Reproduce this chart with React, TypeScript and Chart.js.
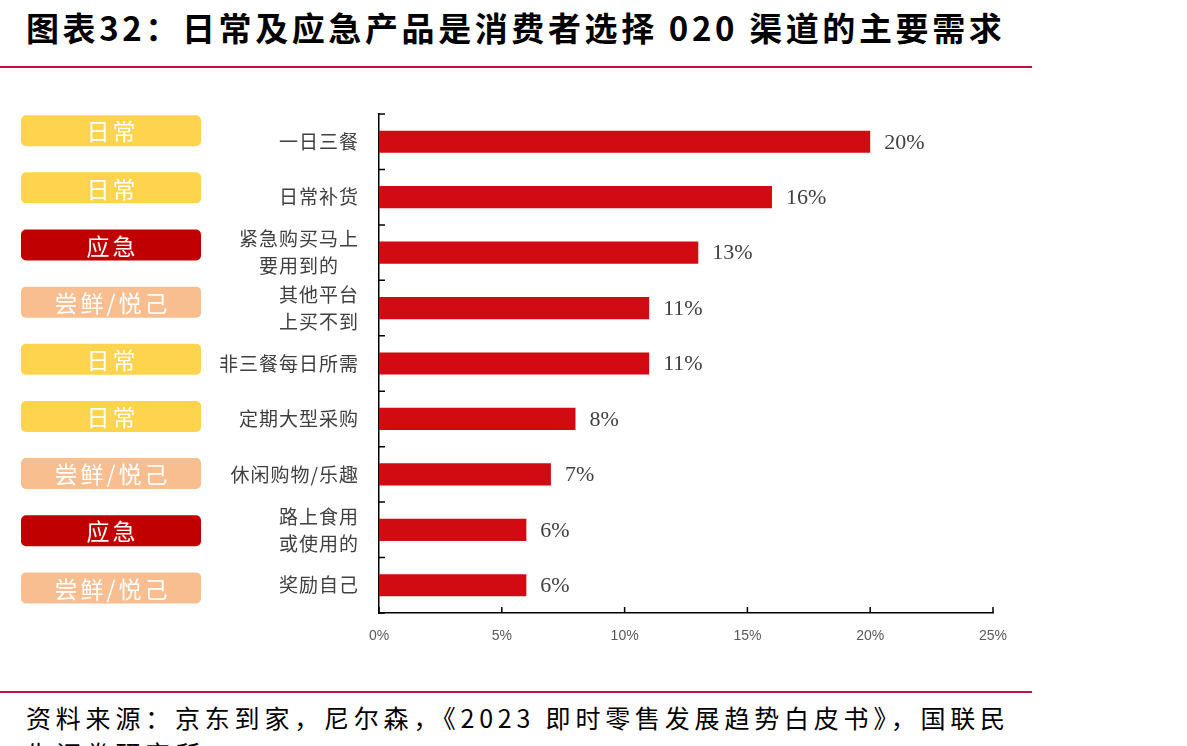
import React, { useEffect, useRef } from "react";
import { Chart, registerables } from "chart.js";

Chart.register(...registerables);

const categories: string[][] = [
  ["一日三餐"],
  ["日常补货"],
  ["紧急购买马上", "要用到的"],
  ["其他平台", "上买不到"],
  ["非三餐每日所需"],
  ["定期大型采购"],
  ["休闲购物/乐趣"],
  ["路上食用", "或使用的"],
  ["奖励自己"],
];
const values: number[] = [20, 16, 13, 11, 11, 8, 7, 6, 6];
const tagLabels: string[] = ["日常", "日常", "应急", "尝鲜/悦己", "日常", "日常", "尝鲜/悦己", "应急", "尝鲜/悦己"];
const xTicks: number[] = [0, 5, 10, 15, 20, 25];

const TITLE = "图表32：日常及应急产品是消费者选择 020 渠道的主要需求";
const SOURCE_1 = "资料来源：京东到家，尼尔森，《2023 即时零售发展趋势白皮书》，国联民";
const SOURCE_2 = "生证券研究所";

const tagColors: Record<string, string> = {
  "日常": "#FED44F",
  "应急": "#C00000",
  "尝鲜/悦己": "#F8BE90",
};

const BAR_COLOR = "#D20A11";
const CJK = '"Noto Sans CJK SC", "Noto Sans", sans-serif';

const overlayPlugin = {
  id: "overlay",
  afterDraw(chart: any) {
    const ctx = chart.ctx as CanvasRenderingContext2D;
    const xs = chart.scales.x;
    const ys = chart.scales.y;
    const { left, top, bottom } = chart.chartArea;
    ctx.save();
    // inner tick marks
    ctx.strokeStyle = "#000";
    ctx.lineWidth = 1.5;
    ctx.beginPath();
    xTicks.forEach((v) => {
      const x = xs.getPixelForValue(v);
      ctx.moveTo(x, bottom);
      ctx.lineTo(x, bottom - 6);
    });
    const n = categories.length;
    for (let k = 0; k <= n; k++) {
      const y = top + (k * (bottom - top)) / n;
      ctx.moveTo(left, y);
      ctx.lineTo(left + 6, y);
    }
    ctx.stroke();

    // category labels
    ctx.font = `19px ${CJK}`;
    (ctx as any).letterSpacing = "1px";
    ctx.fillStyle = "#404040";
    ctx.textAlign = "center";
    ctx.textBaseline = "middle";
    const labelRight = left - 20;
    const lineH = 27;
    categories.forEach((lines, i) => {
      const yc = ys.getPixelForValue(i);
      const widest = Math.max(...lines.map((l) => ctx.measureText(l).width));
      const cx = labelRight - widest / 2;
      lines.forEach((l, j) => {
        const y = yc + (j - (lines.length - 1) / 2) * lineH;
        ctx.fillText(l, cx, y);
      });
    });

    // tags
    tagLabels.forEach((t, i) => {
      const yc = ys.getPixelForValue(i) - 11 + 1.7 * i;
      const w = 180;
      const h = 31;
      const x0 = 21;
      ctx.fillStyle = tagColors[t];
      ctx.beginPath();
      (ctx as any).roundRect(x0, yc - h / 2, w, h, 5);
      ctx.fill();
      ctx.fillStyle = "#FFFFFF";
      ctx.font = `23px ${CJK}`;
      (ctx as any).letterSpacing = "3px";
      ctx.textAlign = "center";
      ctx.fillText(t, x0 + w / 2 + 1.5, yc + 1);
    });

    // value labels
    (ctx as any).letterSpacing = "0px";
    ctx.font = '22px "Liberation Serif", "DejaVu Serif", serif';
    ctx.fillStyle = "#404040";
    ctx.textAlign = "left";
    values.forEach((v, i) => {
      const x = xs.getPixelForValue(v);
      const y = ys.getPixelForValue(i);
      ctx.fillText(`${v}%`, x + 14, y + 1);
    });
    ctx.restore();
  },
};

function BarChart() {
  const ref = useRef<HTMLCanvasElement | null>(null);
  useEffect(() => {
    if (!ref.current) return;
    const chart = new Chart(ref.current, {
      type: "bar",
      data: {
        labels: categories.map((c) => c.join("")),
        datasets: [
          {
            data: values,
            backgroundColor: BAR_COLOR,
            borderWidth: 0,
            barPercentage: 0.4,
            categoryPercentage: 1,
          },
        ],
      },
      options: {
        indexAxis: "y",
        animation: false,
        responsive: true,
        maintainAspectRatio: false,
        layout: { padding: { left: 379, right: 47, top: 24, bottom: 7 } },
        plugins: { legend: { display: false }, tooltip: { enabled: false } },
        scales: {
          x: {
            min: 0,
            max: 25,
            grid: { display: false, drawTicks: false },
            border: { display: true, color: "#000", width: 1.5 },
            ticks: {
              stepSize: 5,
              callback: (v: any) => `${v}%`,
              color: "#595959",
              font: { family: '"Liberation Sans Narrow", "Liberation Sans", sans-serif', size: 14 },
              padding: 15,
            },
            afterFit: (s: any) => {
              s.height = 40;
            },
          },
          y: {
            grid: { display: false, drawTicks: false },
            border: { display: true, color: "#000", width: 1.5 },
            ticks: { display: false },
            afterFit: (s: any) => {
              s.width = 0;
            },
          },
        },
      } as any,
      plugins: [overlayPlugin],
    });
    return () => chart.destroy();
  }, []);
  return <canvas ref={ref} />;
}

export default function App() {
  return (
    <div
      style={{
        position: "fixed",
        left: 0,
        top: 0,
        width: 1187,
        height: 746,
        overflow: "hidden",
        background: "#fff",
        fontFamily: CJK,
      }}
    >
      <div
        style={{
          position: "absolute",
          left: 26,
          top: 5,
          whiteSpace: "nowrap",
          fontSize: 33,
          fontWeight: 700,
          letterSpacing: 3.6,
          lineHeight: "44px",
          color: "#000",
        }}
      >
        {TITLE}
      </div>
      <div style={{ position: "absolute", left: 0, top: 66, width: 1032, height: 2, background: "#C0143C" }} />
      <div style={{ position: "absolute", left: 0, top: 90, width: 1040, height: 570 }}>
        <BarChart />
      </div>
      <div style={{ position: "absolute", left: 0, top: 691, width: 1032, height: 2, background: "#C0143C" }} />
      <div
        style={{
          position: "absolute",
          left: 26,
          top: 699,
          whiteSpace: "nowrap",
          fontSize: 25,
          letterSpacing: 4.8,
          lineHeight: "36px",
          color: "#000",
        }}
      >
        <div>{SOURCE_1}</div>
        <div>{SOURCE_2}</div>
      </div>
    </div>
  );
}
